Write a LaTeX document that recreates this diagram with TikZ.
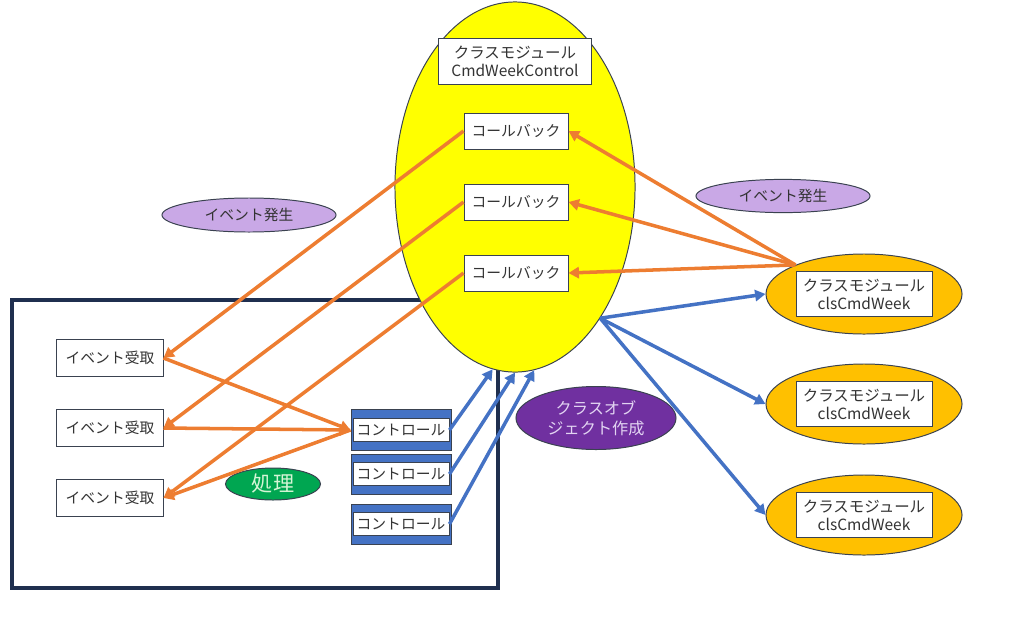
\documentclass[tikz,border=0pt]{standalone}
\usepackage{fontspec}
\setmainfont{Noto Sans CJK JP}
\usetikzlibrary{positioning,arrows.meta,shapes.geometric}
\definecolor{waku}{HTML}{3A4250}
\definecolor{moji}{HTML}{333333}
\definecolor{kon}{HTML}{1F2F4F}
\definecolor{kiiro}{HTML}{FFFF00}
\definecolor{kin}{HTML}{FFC000}
\definecolor{fuji}{HTML}{C9A8E6}
\definecolor{murasaki}{HTML}{7030A0}
\definecolor{usumurasaki}{HTML}{E2D4F2}
\definecolor{midori}{HTML}{00A651}
\definecolor{usumidori}{HTML}{D6F5D6}
\definecolor{daidai}{HTML}{ED7D31}
\definecolor{ao}{HTML}{4472C4}
\tikzset{
  hako/.style     = {draw=waku, fill=white, text=moji, align=center, inner sep=2pt,
                     line width=0.7pt, minimum width=26mm, minimum height=9mm,
                     font=\fontsize{10.5}{12.5}\selectfont},
  daen/.style     = {ellipse, draw=waku, align=center, inner sep=0pt, line width=0.7pt,
                     text=moji, font=\fontsize{10.5}{12.5}\selectfont},
  seigyo/.style   = {draw=waku, fill=ao, line width=0.7pt, minimum width=25mm,
                     minimum height=10mm},
  oyaji/.style    = {-{Triangle[length=2.6mm, width=2.8mm]}, line width=2.5pt, draw=daidai},
  aoyaji/.style   = {-{Triangle[length=2.6mm, width=2.8mm]}, line width=2.5pt, draw=ao}
}
\begin{document}
\begin{tikzpicture}[x=0.025cm, y=-0.025cm, node distance=8.5mm]
        \useasboundingbox (0,0) rectangle (1024,639);
        \draw[kon, line width=3.2pt] (12,300) rectangle (498,588);

        \node[daen, fill=kiiro, minimum width=60mm, minimum height=92.5mm] (kanri) at (515,187) {};
        \node[hako, minimum width=38mm, minimum height=11.5mm,
              font=\fontsize{11}{13}\selectfont] (title) at (515,61) {クラスモジュール\\CmdWeekControl};
        \node[hako] (cb1) at (516,131) {コールバック};
        \node[hako, below=of cb1] (cb2) {コールバック};
        \node[hako, below=of cb2] (cb3) {コールバック};

        \node[daen, fill=fuji, minimum width=43.5mm, minimum height=8.5mm] (hassei1) at (249,215) {イベント発生};
        \node[daen, fill=fuji, minimum width=43.5mm, minimum height=8.3mm] (hassei2) at (783,196) {イベント発生};

        \node[hako, minimum width=26.5mm, minimum height=9.25mm] (ev1) at (110,358) {イベント受取};
        \node[hako, minimum width=26.5mm, minimum height=9.25mm, below=8mm of ev1] (ev2) {イベント受取};
        \node[hako, minimum width=26.5mm, minimum height=9.25mm, below=8mm of ev2] (ev3) {イベント受取};

        \node[seigyo, minimum height=10.25mm] (ct1) at (401,430) {};
        \node[hako, minimum width=24mm, minimum height=5.75mm] (ct1t) at (ct1) {コントロール};
        \node[seigyo] (ct2) at (401,474) {};
        \node[hako, minimum width=24mm, minimum height=5.75mm] (ct2t) at (ct2) {コントロール};
        \node[seigyo] (ct3) at (401,524) {};
        \node[hako, minimum width=24mm, minimum height=5.75mm] (ct3t) at (ct3) {コントロール};

        \node[daen, fill=midori, text=usumidori, minimum width=23.75mm, minimum height=8mm,
              font=\fontsize{15}{17}\selectfont] (shori) at (273,484) {処理};
        \node[daen, fill=murasaki, text=usumurasaki, minimum width=40mm, minimum height=15.75mm,
              font=\fontsize{11.5}{14}\selectfont] (sakusei) at (596,418) {クラスオブ\\ジェクト作成};

        \node[daen, fill=kin, minimum width=49mm, minimum height=20mm] (mod1) at (864,294) {};
        \node[hako, minimum width=34mm, minimum height=11.25mm,
              font=\fontsize{11}{13}\selectfont] (mod1t) at (mod1) {クラスモジュール\\clsCmdWeek};
        \node[daen, fill=kin, minimum width=49mm, minimum height=20mm] (mod2) at (864,404) {};
        \node[hako, minimum width=34mm, minimum height=11.25mm,
              font=\fontsize{11}{13}\selectfont] (mod2t) at (mod2) {クラスモジュール\\clsCmdWeek};
        \node[daen, fill=kin, minimum width=49mm, minimum height=20mm] (mod3) at (864,515) {};
        \node[hako, minimum width=34mm, minimum height=11.25mm,
              font=\fontsize{11}{13}\selectfont] (mod3t) at (mod3) {クラスモジュール\\clsCmdWeek};

        % イベント発生 -> コールバック
        \coordinate (hatsu) at (mod1.157);
        \draw[oyaji] (hatsu) -- (cb1.east);
        \draw[oyaji] (hatsu) -- (cb2.east);
        \draw[oyaji] (hatsu) -- (cb3.east);

        \draw[oyaji] (cb1.west) -- (ev1.east);
        \draw[oyaji] (cb2.west) -- (ev2.east);
        \draw[oyaji] (cb3.west) -- (ev3.east);
        \draw[oyaji] (ev1.east) -- (ct1.west);
        \draw[oyaji] (ev2.east) -- (ct1.west);
        \draw[oyaji] (ct1.west) -- (ev3.east);

        % クラスオブジェクト作成
        \draw[aoyaji] (ct1t.east) -- (kanri.263);
        \draw[aoyaji] (ct2t.east) -- (kanri.south);
        \draw[aoyaji] (ct3t.east) -- (kanri.276);
        \coordinate (deguchi) at (kanri.-57);
        \draw[aoyaji] (deguchi) -- (mod1.west);
        \draw[aoyaji] (deguchi) -- (mod2.west);
        \draw[aoyaji] (deguchi) -- (mod3.west);
    \end{tikzpicture}
\end{document}
